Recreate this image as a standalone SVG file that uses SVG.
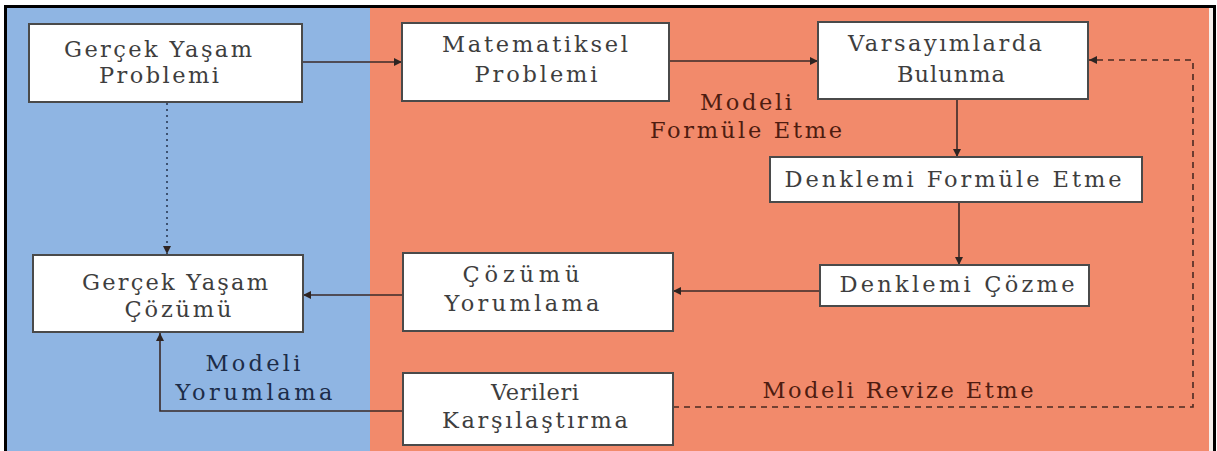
<svg xmlns="http://www.w3.org/2000/svg" width="1217" height="451" viewBox="0 0 1217 451">
  <defs>
    <style>
      .box { fill: #ffffff; stroke: #4a4a4a; stroke-width: 2; }
      text { font-family: 'DejaVu Serif', 'Liberation Serif', serif; font-size: 22.5px; text-anchor: middle; }
      .t { fill: #3e3e3e; }
      .red { fill: #4e1c10; }
      .navy { fill: #1c2c48; }
      .ln { fill: none; stroke: #3a2a28; stroke-width: 1.6; }
      .dash { fill: none; stroke: #4a2a22; stroke-width: 1.6; stroke-dasharray: 6 5; }
      .dot { fill: none; stroke: #2a3a55; stroke-width: 1.6; stroke-dasharray: 2 4; }
    </style>
    <marker id="ah" viewBox="0 0 10 10" refX="10" refY="5" markerWidth="10" markerHeight="8" markerUnits="userSpaceOnUse" orient="auto">
      <path d="M0,0 L10,5 L0,10 z" fill="#2e2422"/>
    </marker>
  </defs>

  <!-- background -->
  <rect x="0" y="0" width="1217" height="451" fill="#ffffff"/>
  <rect x="6" y="7" width="364" height="444" fill="#8fb5e3"/>
  <rect x="370" y="7" width="839" height="444" fill="#f28a6b"/>
  <rect x="1209" y="7" width="5" height="444" fill="#f6f0ec"/>
  <path d="M5.5,451 L5.5,6.5 L1214.5,6.5 L1214.5,451" fill="none" stroke="#000000" stroke-width="3"/>

  <!-- connectors -->
  <g id="connectors">
    <line class="ln" x1="302" y1="62" x2="402" y2="62" marker-end="url(#ah)"/>
    <line class="ln" x1="669" y1="61" x2="818" y2="61" marker-end="url(#ah)"/>
    <line class="ln" x1="957" y1="99" x2="957" y2="157" marker-end="url(#ah)"/>
    <line class="ln" x1="959" y1="202" x2="959" y2="265" marker-end="url(#ah)"/>
    <line class="ln" x1="820" y1="291" x2="673" y2="291" marker-end="url(#ah)"/>
    <line class="ln" x1="403" y1="295" x2="303" y2="295" marker-end="url(#ah)"/>
    <polyline class="ln" points="403,411 160,411 160,333" marker-end="url(#ah)"/>
    <line class="dot" x1="167" y1="103" x2="167" y2="254" marker-end="url(#ah)"/>
    <polyline class="dash" points="673,407 1193,407 1193,60 1089,60" marker-end="url(#ah)"/>
    <text class="red" x="746" y="110" textLength="92" lengthAdjust="spacing">Modeli</text>
    <text class="red" x="746" y="138" textLength="192" lengthAdjust="spacing">Formüle Etme</text>
    <text class="navy" x="253" y="371" textLength="95" lengthAdjust="spacing">Modeli</text>
    <text class="navy" x="254" y="400" textLength="157" lengthAdjust="spacing">Yorumlama</text>
    <text class="red" x="898" y="398" textLength="271" lengthAdjust="spacing">Modeli Revize Etme</text>
  </g>

  <!-- nodes -->
  <g id="n-gercek-problem">
    <rect class="box" x="29" y="24" width="273" height="78"/>
    <text class="t" x="158" y="57" textLength="188" lengthAdjust="spacing">Gerçek Yaşam</text>
    <text class="t" x="159" y="83" textLength="120" lengthAdjust="spacing">Problemi</text>
  </g>
  <g id="n-matematiksel">
    <rect class="box" x="402" y="23" width="267" height="78"/>
    <text class="t" x="535" y="52" textLength="186" lengthAdjust="spacing">Matematiksel</text>
    <text class="t" x="536" y="82" textLength="123" lengthAdjust="spacing">Problemi</text>
  </g>
  <g id="n-varsayim">
    <rect class="box" x="818" y="22" width="270" height="77"/>
    <text class="t" x="945" y="51" textLength="194" lengthAdjust="spacing">Varsayımlarda</text>
    <text class="t" x="951" y="82" textLength="108" lengthAdjust="spacing">Bulunma</text>
  </g>
  <g id="n-denklem-formule">
    <rect class="box" x="770" y="157" width="372" height="45"/>
    <text class="t" x="953" y="187" textLength="337" lengthAdjust="spacing">Denklemi Formüle Etme</text>
  </g>
  <g id="n-denklem-cozme">
    <rect class="box" x="820" y="265" width="269" height="41"/>
    <text class="t" x="957" y="292" textLength="235" lengthAdjust="spacing">Denklemi Çözme</text>
  </g>
  <g id="n-cozumu-yorumlama">
    <rect class="box" x="403" y="253" width="270" height="78"/>
    <text class="t" x="521" y="282" textLength="117" lengthAdjust="spacing">Çözümü</text>
    <text class="t" x="522" y="311" textLength="155" lengthAdjust="spacing">Yorumlama</text>
  </g>
  <g id="n-verileri">
    <rect class="box" x="403" y="373" width="270" height="72"/>
    <text class="t" x="535" y="400" textLength="88" lengthAdjust="spacing">Verileri</text>
    <text class="t" x="535" y="428" textLength="186" lengthAdjust="spacing">Karşılaştırma</text>
  </g>
  <g id="n-gercek-cozum">
    <rect class="box" x="33" y="255" width="270" height="77"/>
    <text class="t" x="175" y="290" textLength="186" lengthAdjust="spacing">Gerçek Yaşam</text>
    <text class="t" x="178" y="317" textLength="107" lengthAdjust="spacing">Çözümü</text>
  </g>
</svg>
